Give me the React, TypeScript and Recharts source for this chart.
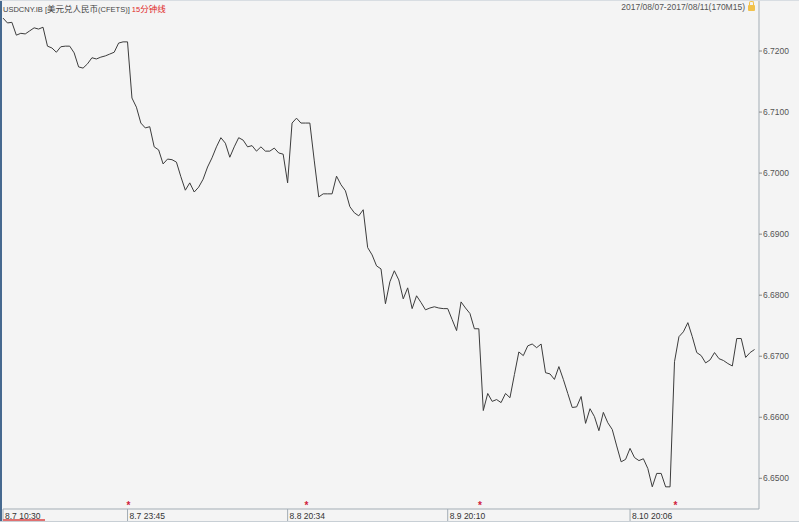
import React from "react";
import { LineChart, Line, XAxis, YAxis, ReferenceDot } from "recharts";

// 15-minute closes, USDCNY.IB, 2017/08/07 - 2017/08/11 (170 bars)
const rates = [
  6.7254, 6.7246, 6.7247, 6.7226, 6.7229, 6.7228, 6.7233, 6.7238, 6.7236, 6.7239,
  6.7208, 6.7205, 6.7198, 6.7207, 6.7208, 6.7208, 6.7197, 6.7174, 6.7172, 6.7179,
  6.7189, 6.7187, 6.719, 6.7192, 6.7195, 6.7198, 6.7213, 6.7215, 6.7215, 6.7123,
  6.7108, 6.7082, 6.7074, 6.7076, 6.7043, 6.7038, 6.7015, 6.7023, 6.7022, 6.7018,
  6.6994, 6.6972, 6.6984, 6.6969, 6.6977, 6.699, 6.701, 6.7025, 6.7043, 6.7058,
  6.7049, 6.7026, 6.7043, 6.7058, 6.7054, 6.7043, 6.7045, 6.7036, 6.7043, 6.7036,
  6.7036, 6.7041, 6.7033, 6.7031, 6.6984, 6.7082, 6.709, 6.7082, 6.7082, 6.7082,
  6.702, 6.6961, 6.6966, 6.6966, 6.6966, 6.6995, 6.6981, 6.6971, 6.6945, 6.6935,
  6.693, 6.694, 6.6878, 6.6866, 6.6848, 6.6843, 6.6786, 6.6822, 6.684, 6.6825,
  6.6794, 6.6812, 6.6778, 6.6799, 6.6788, 6.6776, 6.6779, 6.6781, 6.6779, 6.6778,
  6.6778, 6.676, 6.6742, 6.6789, 6.6779, 6.677, 6.6745, 6.6745, 6.6611, 6.6639,
  6.6626, 6.6629, 6.6624, 6.6639, 6.6632, 6.667, 6.6707, 6.6701, 6.6717, 6.672,
  6.6714, 6.672, 6.6673, 6.6671, 6.6662, 6.6683, 6.6662, 6.6639, 6.6616, 6.6617,
  6.6634, 6.659, 6.6614, 6.6601, 6.6578, 6.6608, 6.6591, 6.658, 6.6553, 6.6527,
  6.6531, 6.6549, 6.6534, 6.6529, 6.6532, 6.6516, 6.6486, 6.6508, 6.6508, 6.6486,
  6.6486, 6.6691, 6.6732, 6.674, 6.6755, 6.6732, 6.6706, 6.6701, 6.6689, 6.6694,
  6.6706, 6.6696, 6.6693, 6.6688, 6.6684, 6.6729, 6.6729, 6.6698, 6.6706, 6.6711,
];

const yTicks = [6.65, 6.66, 6.67, 6.68, 6.69, 6.7, 6.71, 6.72];
const timeLabels = ["8.7 10:30", "8.7 23:45", "8.8 20:34", "8.9 20:10", "8.10 20:06"];
const timeLabelBars = [0, 28, 64, 100, 141];
const sessionMarkBars = [28, 68, 107, 151];

const chartData = rates.map((v, i) => ({ i, v }));
const yDomain: [number, number] = [6.64497, 6.72836];

const font = "'Liberation Sans', 'Noto Sans CJK SC', sans-serif";

const TimeTick = (props: any) => {
  const { x, y, payload } = props;
  const k = timeLabelBars.indexOf(payload.value);
  return (
    <g>
      <line x1={x} y1={y} x2={x} y2={y + 13} stroke="#a3adb5" />
      <text x={x + 2} y={y + 10} fontSize={8.5} fill="#333" fontFamily={font}>
        {timeLabels[k]}
      </text>
    </g>
  );
};

const Star = (props: any) => (
  <text x={props.cx + 1} y={props.cy} fontSize={10} fontWeight="bold" fill="#d0203c" textAnchor="middle" fontFamily={font}>
    *
  </text>
);

export default function App() {
  return (
    <div style={{ position: "relative", width: 799, height: 522, background: "#f4f4f4", overflow: "hidden" }}>
      <style>{`body{margin:0}`}</style>
      <LineChart
        width={799}
        height={522}
        data={chartData}
        margin={{ top: 0, right: 0, left: 3, bottom: 0 }}
      >
        <XAxis
          dataKey="i"
          type="number"
          domain={[0, 170]}
          ticks={timeLabelBars}
          interval={0}
          height={13}
          tickSize={0}
          tickMargin={0}
          tick={<TimeTick />}
          axisLine={{ stroke: "#a3adb5" }}
        />
        <YAxis
          orientation="right"
          width={40}
          domain={yDomain}
          allowDataOverflow
          ticks={yTicks}
          interval={0}
          tickFormatter={(v: number) => v.toFixed(4)}
          tickSize={3}
          tickMargin={1}
          tick={{ fill: "#555", fontSize: 8.5, fontFamily: font, textAnchor: "start" }}
          tickLine={{ stroke: "#888" }}
          axisLine={{ stroke: "#a3adb5" }}
        />
        {sessionMarkBars.map((b) => (
          <ReferenceDot key={b} x={b} y={yDomain[0]} r={0} shape={<Star />} ifOverflow="visible" />
        ))}
        <Line
          type="linear"
          dataKey="v"
          stroke="#3c3c3c"
          strokeWidth={1}
          dot={false}
          isAnimationActive={false}
        />
      </LineChart>

      {/* frame bits */}
      <div style={{ position: "absolute", left: 0, top: 0, width: 2, height: 522, background: "#46698f" }} />
      <div style={{ position: "absolute", left: 0, top: 0, width: 799, height: 1, background: "#d8dde2" }} />
      <div style={{ position: "absolute", left: 0, top: 521, width: 799, height: 1, background: "#c8cfd5" }} />
      <div style={{ position: "absolute", left: 3, top: 519, width: 42, height: 2, background: "#e07070" }} />

      {/* header */}
      <div style={{ position: "absolute", left: 3, top: 2, fontSize: 7.5, fontFamily: font, color: "#444", whiteSpace: "nowrap" }}>
        USDCNY.IB [<span style={{ fontSize: 8.5 }}>美元兑人民币</span>(CFETS)]{" "}
        <span style={{ color: "#e02828" }}>15<span style={{ fontSize: 8.5 }}>分钟线</span></span>
      </div>
      <div style={{ position: "absolute", right: 54, top: 2, fontSize: 8.5, fontFamily: font, color: "#555", whiteSpace: "nowrap" }}>
        2017/08/07-2017/08/11(170M15)
      </div>
      <div style={{ position: "absolute", left: 748, top: 5, width: 7, height: 6, background: "#f2c24c", borderRadius: 1 }} />
      <div style={{ position: "absolute", left: 749, top: 1, width: 3, height: 4, border: "1px solid #f2c24c", borderBottom: "none", borderRadius: "2px 2px 0 0" }} />
    </div>
  );
}
